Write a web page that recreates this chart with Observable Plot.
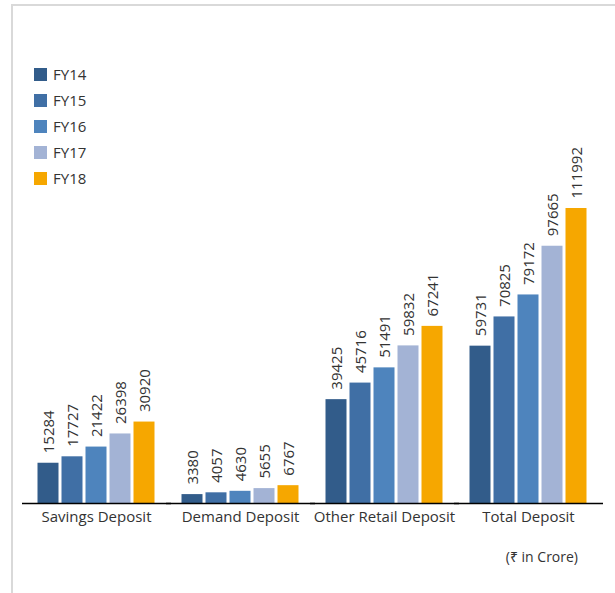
<!DOCTYPE html>
<html>
<head>
<meta charset="utf-8">
<script src="https://cdn.jsdelivr.net/npm/d3@7"></script>
<script src="https://cdn.jsdelivr.net/npm/@observablehq/plot@0.6"></script>
<style>
  html, body { margin: 0; padding: 0; background: #fff; }
  body { width: 615px; height: 593px; position: relative; overflow: hidden; font-family: "Open Sans", "Noto Sans", sans-serif; }
  #frame { position: absolute; left: 11px; top: 4px; right: -4px; bottom: -4px; border-left: 2px solid #d9d9d9; border-top: 2px solid #d9d9d9; box-sizing: border-box; }
  #chart { position: absolute; left: 0; top: 0; }
  #legend { position: absolute; left: 34px; top: 61px; }
  .item { display: flex; align-items: center; height: 26px; font-size: 15px; color: #333; }
  .sw { width: 13px; height: 13px; margin-right: 6px; }
  #caption { position: absolute; right: 37px; top: 547px; font-size: 14px; color: #333; }
</style>
</head>
<body>
<div id="frame"></div>
<div id="chart"></div>
<div id="legend"></div>
<div id="caption">(₹ in Crore)</div>
<script>
const categories = ["Savings Deposit", "Demand Deposit", "Other Retail Deposit", "Total Deposit"];
const years = ["FY14", "FY15", "FY16", "FY17", "FY18"];
const colors = ["#325c8a", "#406fa5", "#4e84bd", "#a3b3d5", "#f6a700"];
const savings = [15284, 17727, 21422, 26398, 30920];
const demand = [3380, 4057, 4630, 5655, 6767];
const otherRetail = [39425, 45716, 51491, 59832, 67241];
const total = [59731, 70825, 79172, 97665, 111992];

const series = [savings, demand, otherRetail, total];
const data = [];
categories.forEach((c, i) => years.forEach((y, j) => data.push({category: c, year: y, value: series[i][j]})));

const plot = Plot.plot({
  width: 615,
  height: 540,
  marginTop: 208,
  marginBottom: 37,
  marginLeft: 32.5,
  marginRight: 23.5,
  style: {fontFamily: '"Open Sans", "Noto Sans", sans-serif', fontSize: "15px", color: "#333", background: "transparent"},
  fx: {domain: categories, padding: 0.139, label: null, axis: "bottom", tickSize: 0, tickPadding: 8, fontSize: 15},
  x: {domain: years, padding: 0.12, axis: null},
  y: {domain: [0, d3.max(data, d => d.value)], axis: null},
  color: {domain: years, range: colors},
  marks: [
    Plot.barY(data, {fx: "category", x: "year", y: "value", fill: "year"}),
    Plot.text(data, {fx: "category", x: "year", y: "value", text: d => String(d.value), rotate: -90, textAnchor: "start", dx: 1, dy: -10, fill: "#333", fontSize: 15, lineAnchor: "middle"}),
    Plot.ruleY([0], {stroke: "#000", strokeWidth: 1.3, insetLeft: -12, insetRight: -13})
  ]
});
document.getElementById("chart").appendChild(plot);

const legend = document.getElementById("legend");
years.forEach((y, i) => {
  const it = document.createElement("div");
  it.className = "item";
  it.innerHTML = `<span class="sw" style="background:${colors[i]}"></span><span>${y}</span>`;
  legend.appendChild(it);
});
</script>
</body>
</html>
